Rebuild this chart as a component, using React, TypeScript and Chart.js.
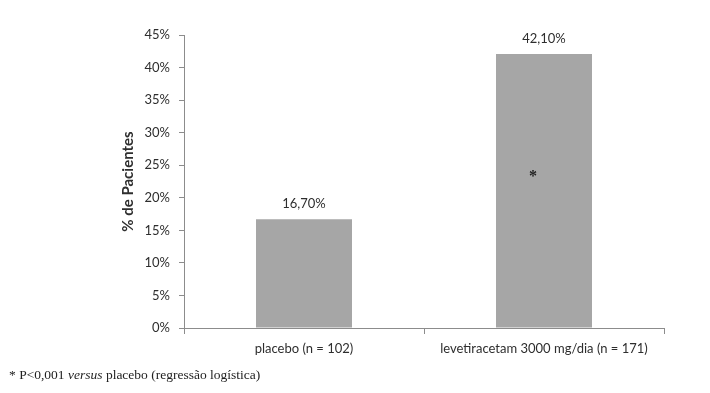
import React, { useEffect, useRef } from "react";
import { Chart, registerables } from "chart.js";

Chart.register(...registerables);

const categories = ["placebo (n = 102)", "levetiracetam 3000 mg/dia (n = 171)"];
const percentPatients = [16.7, 42.1];
const valueLabels = ["16,70%", "42,10%"];
const significanceMarks = ["", "*"];
const yAxisTitle = "% de Pacientes";
const yMin = 0;
const yMax = 45;
const yStep = 5;

const TEXT = "#2e2e2e";
const AXIS = "#8c8c8c";
const BAR = "#a6a6a6";
const FONT = "Lato";

const labelPlugin = {
  id: "barLabels",
  afterDatasetsDraw(chart: any) {
    const ctx = chart.ctx;
    const meta = chart.getDatasetMeta(0);
    ctx.save();
    meta.data.forEach((bar: any, i: number) => {
      ctx.fillStyle = TEXT;
      ctx.font = `13px ${FONT}`;
      ctx.textAlign = "center";
      ctx.textBaseline = "bottom";
      ctx.fillText(valueLabels[i], bar.x, bar.y - 9);
      const mark = significanceMarks[i];
      if (mark) {
        const my = bar.y + (bar.base - bar.y) * 0.44;
        ctx.font = `bold 16px "Liberation Serif"`;
        ctx.textBaseline = "middle";
        ctx.fillStyle = "#222";
        ctx.fillText(mark, bar.x - 11, my + 3);
      }
    });
    ctx.restore();
  },
};

export default function App() {
  const ref = useRef<HTMLCanvasElement | null>(null);
  useEffect(() => {
    if (!ref.current) return;
    const chart = new Chart(ref.current, {
      type: "bar",
      data: {
        labels: categories,
        datasets: [
          {
            data: percentPatients,
            backgroundColor: BAR,
            borderWidth: 0,
            barPercentage: 0.4,
            categoryPercentage: 1,
          },
        ],
      },
      options: {
        responsive: false,
        animation: false,
        layout: { padding: { left: 0, right: 46, top: 35, bottom: 0 } },
        plugins: { legend: { display: false }, tooltip: { enabled: false }, title: { display: false } },
        scales: {
          x: {
            afterFit: (s: any) => {
              s.height = 65;
            },
            grid: {
              display: true,
              drawOnChartArea: false,
              drawTicks: true,
              tickLength: 6,
              offset: true,
              color: AXIS,
            },
            border: { display: true, color: AXIS },
            ticks: { color: TEXT, font: { family: FONT, size: 13 }, padding: 7 },
          },
          y: {
            min: yMin,
            max: yMax,
            afterFit: (s: any) => {
              s.width = 184;
            },
            ticks: {
              stepSize: yStep,
              color: TEXT,
              font: { family: FONT, size: 13 },
              padding: 9,
              callback: (v: any) => `${v}%`,
            },
            grid: { drawOnChartArea: false, drawTicks: true, tickLength: 5, color: AXIS },
            border: { display: true, color: AXIS },
            title: {
              display: true,
              text: yAxisTitle,
              color: TEXT,
              font: { family: FONT, size: 15, weight: "bold" },
              padding: { top: 119, bottom: 0 },
            },
          },
        },
      },
      plugins: [labelPlugin],
    });
    return () => chart.destroy();
  }, []);

  return (
    <div style={{ position: "fixed", left: 0, top: 0, width: 710, height: 393, background: "#fff" }}>
      <canvas ref={ref} width={710} height={393} style={{ width: 710, height: 393, display: "block" }} />
      <div
        style={{
          position: "absolute",
          left: 9,
          top: 367,
          fontFamily: '"Liberation Serif", serif',
          fontSize: 13.5,
          lineHeight: "16px",
          color: "#222",
          whiteSpace: "nowrap",
        }}
      >
        * P&lt;0,001 <i>versus</i> placebo (regressão logística)
      </div>
    </div>
  );
}
